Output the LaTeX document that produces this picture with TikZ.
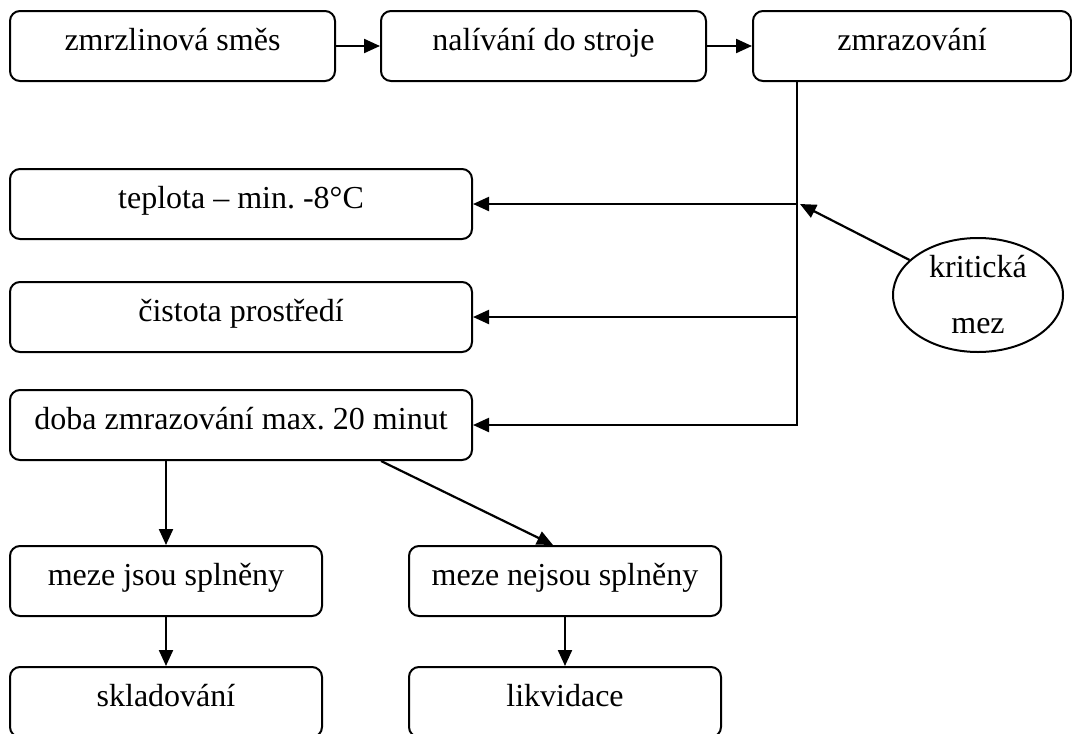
\documentclass[tikz,border=0pt]{standalone}
\usepackage{fontspec}
\setmainfont{Liberation Serif}
\usetikzlibrary{arrows.meta,shapes.geometric,calc}
\frenchspacing
\begin{document}
\begin{tikzpicture}[x=1pt,y=-1pt,
  lbl/.style={font=\fontsize{32}{38}\selectfont},
  box/.style={lbl,draw,line width=2pt,rounded corners=10pt,inner sep=0pt,
    minimum height=70pt,text height=21pt,text depth=13pt},
  conn/.style={line width=2.2pt},
  arr/.style={conn,-{Triangle[length=16pt,width=14pt]}}]
\useasboundingbox (0,0) rectangle (1072,734);

% process chain
\node[box,minimum width=325pt] (A) at (172.5,46) {zmrzlinová směs};
\node[box,minimum width=325pt] (B) at (543.5,46) {nalívání do stroje};
\node[box,minimum width=318pt] (C) at (912,46) {zmrazování};

% monitored parameters
\node[box,minimum width=462pt] (T) at (241,204) {teplota – min. -8°C};
\node[box,minimum width=462pt] (P) at (241,317) {čistota prostředí};
\node[box,minimum width=462pt] (D) at (241,425) {doba zmrazování max. 20 minut};

% outcomes
\node[box,minimum width=312pt] (M1) at (166,581) {meze jsou splněny};
\node[box,minimum width=312pt] (M2) at (565,581) {meze nejsou splněny};
\node[box,minimum width=312pt] (S) at (166,702) {skladování};
\node[box,minimum width=312pt] (L) at (565,702) {likvidace};

% critical limit
\node[draw,ellipse,line width=2pt,inner sep=0pt,minimum width=170pt,minimum height=114pt,
  lbl,font=\fontsize{32}{56}\selectfont,align=center] (E) at (978,295) {kritická\\mez};

% connectors
\draw[arr] (A) -- (B);
\draw[arr] (B) -- (C);

\coordinate (top) at ($(C.south)+(-115,0)$);
\coordinate (jT) at (top |- T.east);
\coordinate (jP) at (top |- P.east);
\coordinate (jD) at (top |- D.east);
\draw[arr] (top) -- (jD) -- (D.east);
\draw[arr] (jT) -- (T.east);
\draw[arr] (jP) -- (P.east);
\draw[arr] (E) -- ($(jT)+(3,0)$);

\draw[arr] (D.south -| M1.north) -- (M1.north);
\draw[arr] ($(D.south west)+(372,0)$) -- ($(M2.north)+(-12,0)$);
\draw[arr] (M1) -- (S);
\draw[arr] (M2) -- (L);
\end{tikzpicture}
\end{document}
